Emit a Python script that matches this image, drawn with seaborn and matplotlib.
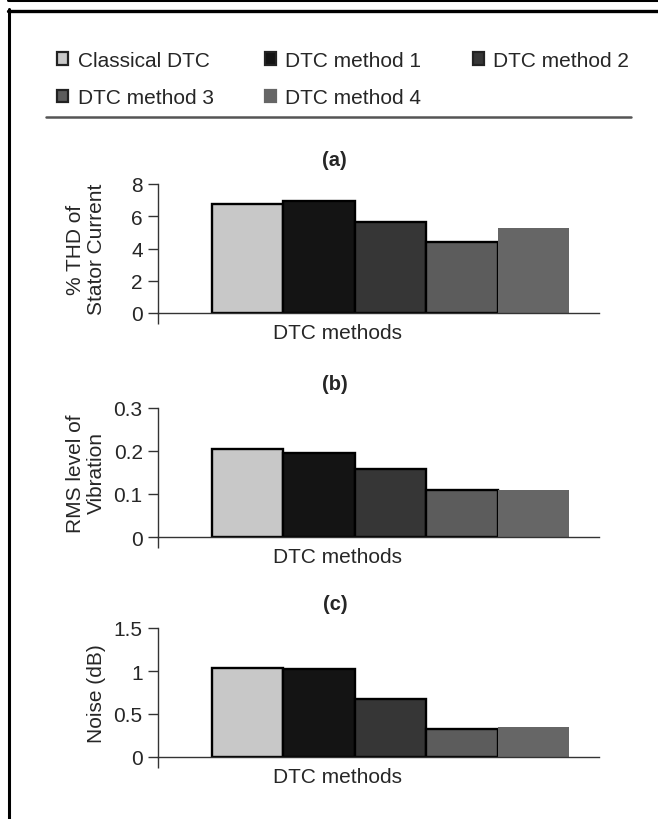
import matplotlib
matplotlib.use("Agg")
import matplotlib.pyplot as plt
import seaborn as sns
import pandas as pd
from matplotlib.patches import Patch
from matplotlib.lines import Line2D

methods = ["Classical DTC", "DTC method 1", "DTC method 2", "DTC method 3", "DTC method 4"]
thd_values = [6.75, 6.95, 5.65, 4.4, 5.3]
vibration_values = [0.205, 0.195, 0.158, 0.109, 0.109]
noise_values = [1.03, 1.02, 0.67, 0.33, 0.345]

panel_titles = ["(a)", "(b)", "(c)"]
y_labels = ["% THD of\nStator Current", "RMS level of\nVibration", "Noise (dB)"]
y_ticks = [[0, 2, 4, 6, 8], [0, 0.1, 0.2, 0.3], [0, 0.5, 1, 1.5]]
y_ticklabels = [["0", "2", "4", "6", "8"], ["0", "0.1", "0.2", "0.3"], ["0", "0.5", "1", "1.5"]]
x_label = "DTC methods"

colors = ["#C8C8C8", "#141414", "#363636", "#5C5C5C", "#666666"]
edges = ["black", "black", "black", "black", "none"]

sns.set_theme(style="white")
plt.rcParams["font.family"] = ["Liberation Sans", "DejaVu Sans"]

W, H = 658, 820
fig = plt.figure(figsize=(W / 100, H / 100), dpi=100)

FS = 15

def fx(px):
    return px / W

def fy(py):
    return 1 - py / H

# frame lines
fig.add_artist(Line2D([fx(8), 1], [fy(1), fy(1)], color="black", lw=2.2, transform=fig.transFigure))
fig.add_artist(Line2D([fx(8), 1], [fy(11.5), fy(11.5)], color="black", lw=2.4, transform=fig.transFigure))
fig.add_artist(Line2D([fx(9), fx(9)], [fy(10), 0], color="black", lw=2.2, transform=fig.transFigure))
# legend separator
fig.add_artist(Line2D([fx(46), fx(631)], [fy(118), fy(118)], color="#555555", lw=1.8, transform=fig.transFigure))

# legend
handles = [Patch(facecolor=c, edgecolor=("#222222" if e != "none" else c), linewidth=1.6) for c, e in zip(colors, edges)]
order = [0, 3, 1, 4, 2]
fig.legend([handles[i] for i in order], [methods[i] for i in order], ncol=3,
           loc="upper left", bbox_to_anchor=(fx(38), fy(33)), frameon=False,
           fontsize=FS, handlelength=0.55, handleheight=0.55, handletextpad=0.45,
           columnspacing=2.45, labelspacing=0.9)

datasets = [thd_values, vibration_values, noise_values]
ylims = [(0, 8), (0, 0.3), (0, 1.5)]
tops = [185, 409, 629]
ax_h = 129
left_px, right_px = 158, 599
xlim = (-1.256, 4.92)

for i, vals in enumerate(datasets):
    ax = fig.add_axes([fx(left_px), fy(tops[i] + ax_h), fx(right_px - left_px), ax_h / H])
    df = pd.DataFrame({"method": methods, "value": vals})
    sns.barplot(data=df, x="method", y="value", hue="method", palette=colors,
                width=1.0, legend=False, ax=ax, saturation=1)
    for p, e in zip(ax.patches, edges):
        if e == "none":
            p.set_edgecolor(p.get_facecolor())
            p.set_linewidth(0)
        else:
            p.set_edgecolor("black")
            p.set_linewidth(1.7)
    ax.set_xlim(*xlim)
    ax.set_ylim(*ylims[i])
    ax.set_yticks(y_ticks[i])
    ax.set_yticklabels(y_ticklabels[i], fontsize=FS)
    ax.set_xticks([xlim[0]])
    ax.set_xticklabels([""])
    ax.tick_params(axis="y", direction="out", length=7, width=1.0, color="#333333", pad=4, left=True)
    ax.tick_params(axis="x", direction="out", length=8, width=1.0, color="#333333", bottom=True)
    for s in ["top", "right"]:
        ax.spines[s].set_visible(False)
    for s in ["left", "bottom"]:
        ax.spines[s].set_color("#333333")
        ax.spines[s].set_linewidth(1.0)
    ax.set_xlabel(x_label, fontsize=FS)
    ax.xaxis.set_label_coords(0.408, -0.08)
    ax.xaxis.label.set_va("top")
    ax.set_ylabel(y_labels[i], fontsize=FS, linespacing=1.15)
    ax.yaxis.set_label_coords(-0.118, 0.5)
    ax.set_title(panel_titles[i], fontsize=14.5, fontweight="bold", x=0.401, pad=14)
    ax.set_facecolor("white")

fig.savefig("out.png", dpi=100, facecolor="white")
